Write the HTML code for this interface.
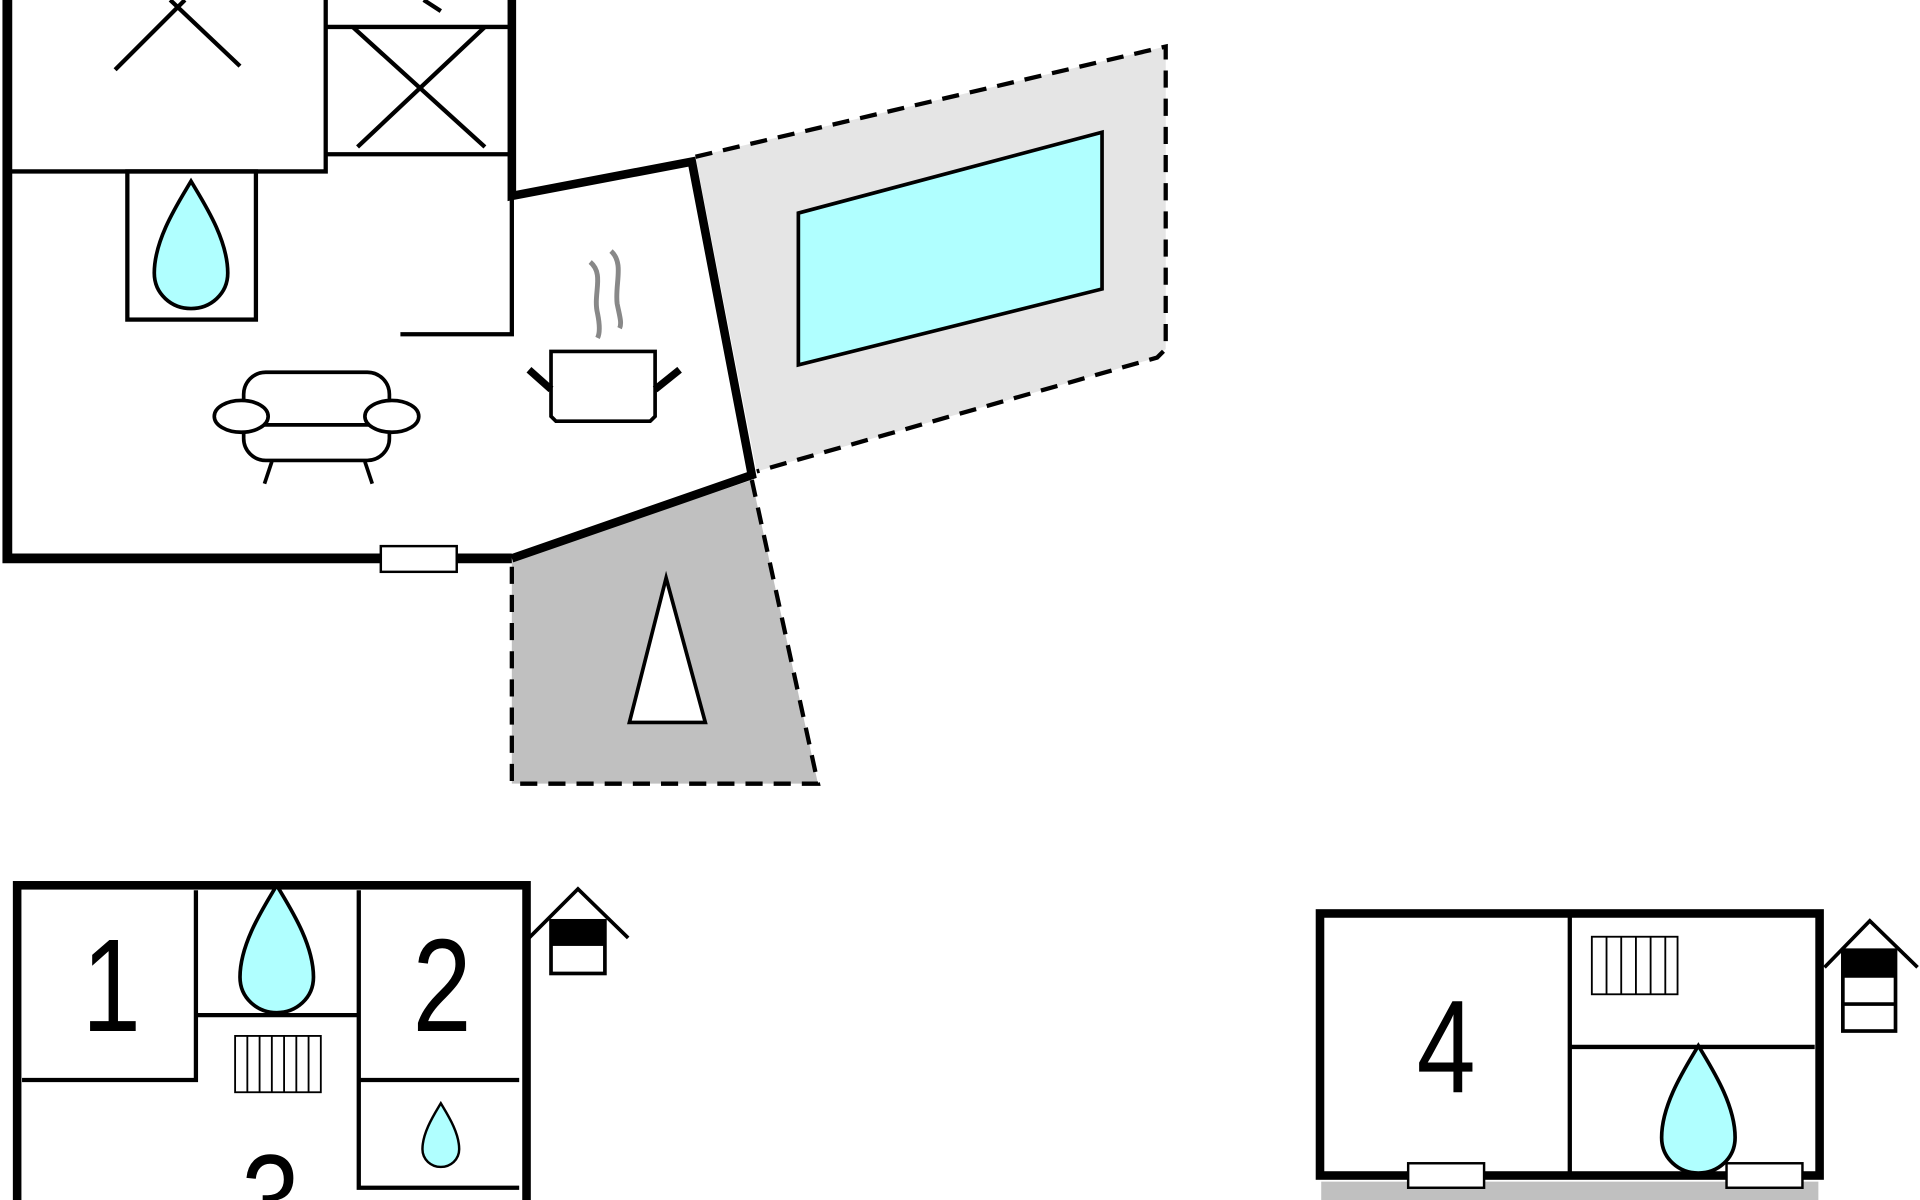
<!DOCTYPE html>
<html><head><meta charset="utf-8"><style>
html,body{margin:0;padding:0;background:#fff;width:1920px;height:1200px;overflow:hidden}
svg{display:block}
text{font-family:"Liberation Sans",sans-serif}
</style></head><body>
<svg width="1920" height="1200" viewBox="0 0 1568 980" xmlns="http://www.w3.org/2000/svg">
<defs>
<path id="drop" d="M0,-52 C-10,-35 -30,-5 -30,23 C-30,40 -16,52 0,52 C16,52 30,40 30,23 C30,-5 10,-35 0,-52 Z"/>
</defs>
<g stroke="#000" fill="none" stroke-linecap="butt">
<polygon points="568,128 952,38 952,285 945,292 618,385" fill="#e5e5e5" stroke="none"/>
<polyline points="568,128 952,38 952,285 945,292 618,385" stroke-width="3.5" stroke-dasharray="14,9"/>
<polygon points="652,174 900,108 900,236 652,298" fill="#b0ffff" stroke-width="3"/>
<polygon points="418,458 614,392 668,640 418,640" fill="#c0c0c0" stroke="none"/>
<polyline points="614,392 668,640 418,640 418,458" stroke-width="3.5" stroke-dasharray="14,9"/>
<polygon points="514,590 544,472 576,590" fill="#fff" stroke-width="3"/>
<polyline points="6,0 6,456 418,456" stroke-width="8"/>
<polyline points="418,0 418,160 565,132 614,388 418,456" stroke-width="7"/>
<rect x="311" y="446" width="62" height="21" fill="#fff" stroke-width="2"/>
<g stroke-width="3.5">
<polyline points="6,140 266,140 266,0"/>
<line x1="266" y1="22" x2="418" y2="22"/>
<line x1="266" y1="126" x2="418" y2="126"/>
<line x1="94" y1="57" x2="151" y2="0"/>
<line x1="139" y1="0" x2="196" y2="54"/>
<line x1="292" y1="120" x2="396" y2="22" />
<line x1="288" y1="22" x2="396" y2="120"/>
<line x1="360" y1="9" x2="346" y2="0"/>
<polyline points="418,160 418,273 327,273"/>
<rect x="104" y="140" width="105" height="121"/>
</g>
<use href="#drop" x="156" y="200" fill="#b0ffff" stroke-width="3"/>
<g stroke-width="3" fill="#fff">
<rect x="199" y="304" width="119" height="72" rx="18"/>
<line x1="214" y1="347" x2="303" y2="347"/>
<ellipse cx="197" cy="340" rx="22" ry="13"/>
<ellipse cx="320" cy="340" rx="22" ry="13"/>
<line x1="222" y1="377" x2="216" y2="395"/>
<line x1="298" y1="377" x2="304" y2="395"/>
</g>
<g stroke-width="3">
<path d="M450,287 H535 V340 L531,344 H454 L450,340 Z" fill="#fff"/>
<line x1="450" y1="318" x2="432" y2="302" stroke-width="6"/>
<line x1="535" y1="318" x2="555" y2="302" stroke-width="6"/>
<path d="M482,214 C494,224 484,240 488,256 C490,266 490,272 488,276" stroke="#888" stroke-width="4"/>
<path d="M499,205 C510,215 502,232 504,248 C506,258 508,264 506,268" stroke="#888" stroke-width="4"/>
</g>
<rect x="14" y="723" width="416" height="270" stroke-width="7"/>
<g stroke-width="3.5">
<polyline points="18,882 160,882 160,727"/>
<line x1="160" y1="829" x2="293" y2="829"/>
<polyline points="293,727 293,970 424,970"/>
<line x1="293" y1="882" x2="424" y2="882"/>
</g>
<use href="#drop" x="226" y="775" fill="#b0ffff" stroke-width="3"/>
<use href="#drop" x="360" y="927" transform="translate(360,927) scale(0.5) translate(-360,-927)" fill="#b0ffff" stroke-width="4"/>
<g stroke-width="1.5"><rect x="192" y="846" width="70" height="46"/>
<path d="M202,846V892M212,846V892M222,846V892M232,846V892M242,846V892M252,846V892"/></g>
<polyline points="432,766 472,726 513,766" stroke-width="3"/>
<rect x="450" y="752" width="44" height="43" fill="#fff" stroke-width="3"/>
<rect x="450" y="752" width="44" height="20" fill="#000"/>
<rect x="1079" y="965" width="406" height="15" fill="#c0c0c0" stroke="none"/>
<rect x="1078" y="746" width="408" height="214" stroke-width="7"/>
<g stroke-width="3.5">
<line x1="1282" y1="749" x2="1282" y2="958"/>
<line x1="1282" y1="855" x2="1482" y2="855"/>
</g>
<g stroke-width="1.5"><rect x="1300" y="765" width="70" height="47"/>
<path d="M1312,765V812M1324,765V812M1336,765V812M1348,765V812M1360,765V812"/></g>
<use href="#drop" x="1387" y="906" fill="#b0ffff" stroke-width="3"/>
<rect x="1150" y="950" width="62" height="20" fill="#fff" stroke-width="2"/>
<rect x="1410" y="950" width="62" height="20" fill="#fff" stroke-width="2"/>
<polyline points="1490,790 1527,752 1566,790" stroke-width="3"/>
<rect x="1505" y="776" width="43" height="66" fill="#fff" stroke-width="3"/>
<rect x="1505" y="776" width="43" height="22" fill="#000"/>
<line x1="1505" y1="820" x2="1548" y2="820" stroke-width="3"/>
</g>
<g font-size="108" fill="#000" text-anchor="middle">
<text transform="translate(91,842) scale(0.8,1)">1</text>
<text transform="translate(361,842) scale(0.8,1)">2</text>
<text transform="translate(221,1018) scale(0.8,1)">3</text>
<text transform="translate(1181,892) scale(0.8,1)">4</text>
</g>
</svg>
</body></html>
